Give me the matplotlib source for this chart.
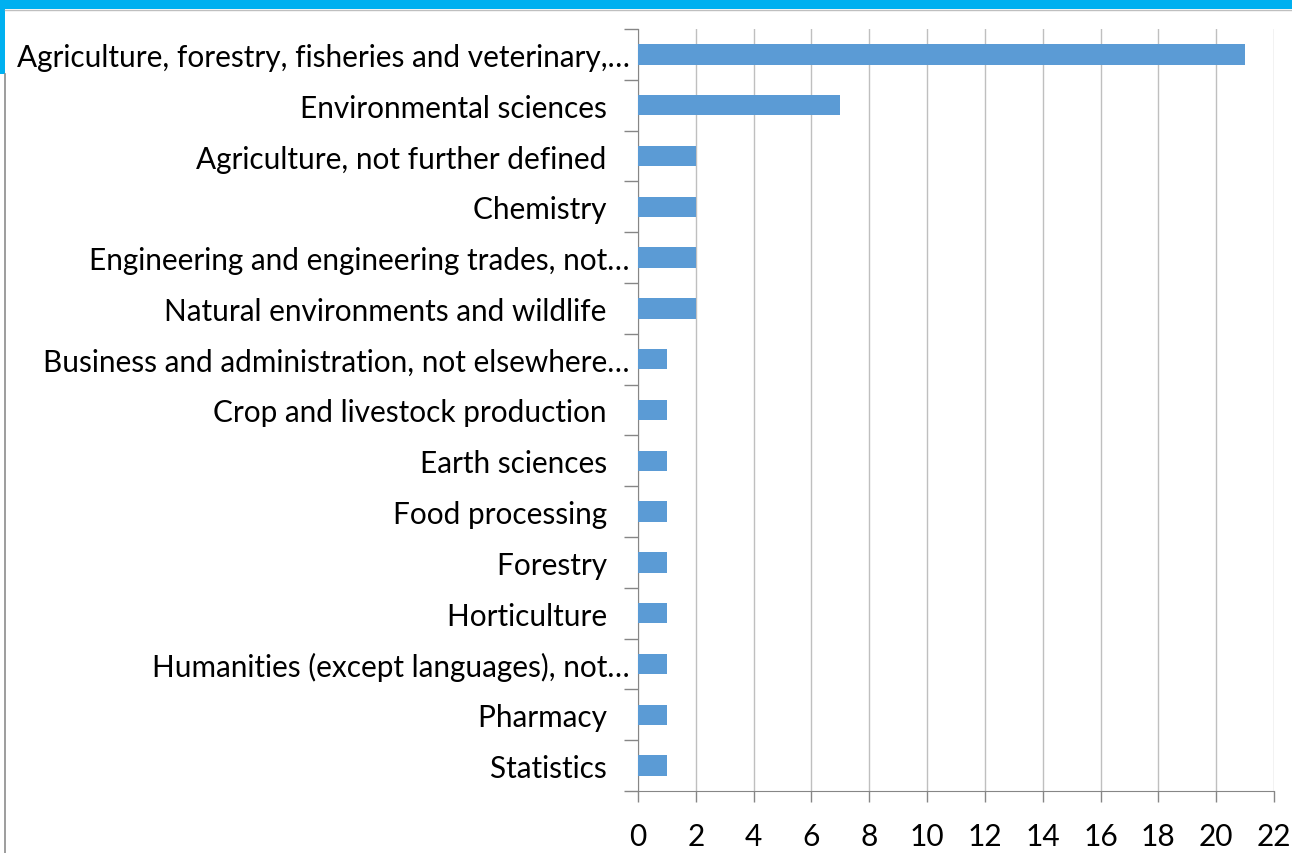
import matplotlib
matplotlib.use("Agg")
import matplotlib.pyplot as plt
import numpy as np
from matplotlib.patches import Rectangle
from matplotlib.lines import Line2D

categories = [
    "Agriculture, forestry, fisheries and veterinary,…",
    "Environmental sciences",
    "Agriculture, not further defined",
    "Chemistry",
    "Engineering and engineering trades, not…",
    "Natural environments and wildlife",
    "Business and administration, not elsewhere…",
    "Crop and livestock production",
    "Earth sciences",
    "Food processing",
    "Forestry",
    "Horticulture",
    "Humanities (except languages), not…",
    "Pharmacy",
    "Statistics",
]
values = [21, 7, 2, 2, 2, 2, 1, 1, 1, 1, 1, 1, 1, 1, 1]
xticks = list(range(0, 23, 2))

W, H = 1292, 854
fig = plt.figure(figsize=(W / 100, H / 100), dpi=100)
fig.patch.set_facecolor("white")

plt.rcParams['font.family'] = ['Lato', 'DejaVu Sans']

# labels that are not truncated carry trailing blank space as in the original
labels = [c if c.endswith("…") else c + "   " for c in categories]

ax = fig.add_axes([638 / W, (H - 792) / H, (1274 - 638) / W, (792 - 30) / H])
y = np.arange(len(categories))
ax.barh(y, values, height=0.4, color="#5B9BD5", zorder=3)
ax.set_xlim(0, 22)
ax.set_ylim(len(categories) - 0.5, -0.5)
ax.set_xticks(xticks)
ax.set_xticklabels([str(t) for t in xticks], fontsize=21.5)
ax.set_yticks(y)
ax.set_yticklabels(labels, fontsize=21.4)
ax.tick_params(axis='y', length=0, pad=6)
ax.set_yticks(np.arange(-0.5, len(categories), 1), minor=True)
ax.tick_params(axis='y', which='minor', length=10, color="#868686", width=1)
ax.tick_params(axis='x', length=8, color="#868686", width=1, pad=14)
ax.grid(axis='x', color="#BFBFBF", linewidth=1, zorder=0)
for s in ['top', 'right']:
    ax.spines[s].set_visible(False)
ax.spines['left'].set_color("#868686")
ax.spines['bottom'].set_color("#868686")

# frame decorations (screenshot border)
fig.add_artist(Rectangle((0, 1 - 10 / H), 1, 10 / H, transform=fig.transFigure,
                         facecolor="#00B0F0", edgecolor="none"))
fig.add_artist(Rectangle((0, 1 - 75 / H), 5 / W, 65 / H, transform=fig.transFigure,
                         facecolor="#00B0F0", edgecolor="none"))
fig.add_artist(Line2D([4.5 / W, 4.5 / W], [0, 1 - 75 / H], transform=fig.transFigure,
                      color="#8C8C8C", linewidth=1.2))
fig.add_artist(Line2D([5 / W, 1], [1 - 11 / H, 1 - 11 / H], transform=fig.transFigure,
                      color="#BFBFBF", linewidth=1))

fig.savefig("out.png", dpi=100)
